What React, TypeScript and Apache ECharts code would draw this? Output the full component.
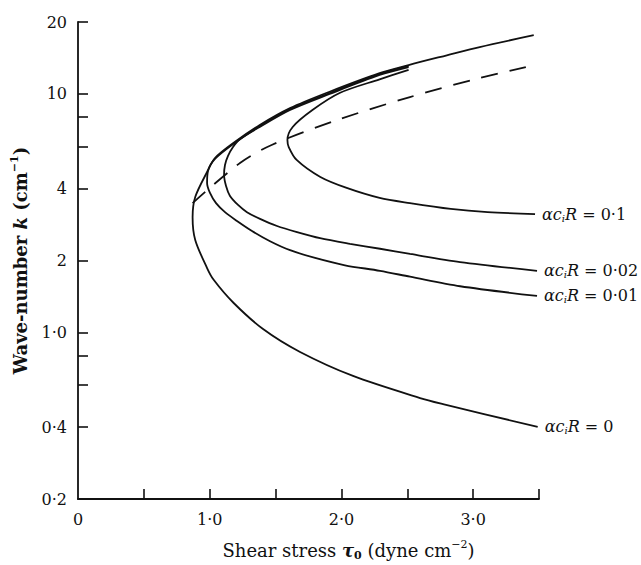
import React, { useEffect, useRef } from "react";
import * as echarts from "echarts";

// Curve αciR = 0 (outermost)
const tau0 = [3.46, 3.05, 2.80, 2.51, 2.29, 1.91, 1.61, 1.38, 1.19, 1.04, 0.98, 0.89, 0.87, 0.89, 0.98, 1.03, 1.18, 1.405, 1.686, 2.088, 2.597, 2.771, 3.49];
const k0 = [17.6, 15.7, 14.5, 13.2, 12.2, 10.2, 8.71, 7.40, 6.28, 5.38, 4.70, 3.69, 3.04, 2.44, 1.86, 1.66, 1.33, 1.032, 0.827, 0.656, 0.530, 0.500, 0.401];

// Curve αciR = 0·01
const tau001 = [2.51, 2.29, 1.91, 1.61, 1.38, 1.19, 1.04, 0.987, 0.98, 1.002, 1.048, 1.116, 1.207, 1.321, 1.458, 1.61, 1.80, 2.027, 2.293, 2.521, 2.901, 3.485];
const k001 = [13.08, 12.1, 10.08, 8.63, 7.33, 6.22, 5.33, 4.75, 4.23, 3.84, 3.48, 3.19, 2.93, 2.66, 2.41, 2.21, 2.05, 1.91, 1.81, 1.71, 1.56, 1.42];

// Curve αciR = 0·02
const tau002 = [2.51, 2.29, 1.91, 1.61, 1.38, 1.23, 1.177, 1.139, 1.116, 1.109, 1.124, 1.154, 1.215, 1.283, 1.382, 1.511, 1.663, 1.838, 2.065, 2.293, 2.521, 2.901, 3.485];
const k002 = [12.95, 11.99, 9.98, 8.55, 7.26, 6.46, 5.98, 5.49, 5.03, 4.57, 4.11, 3.73, 3.42, 3.19, 2.99, 2.79, 2.63, 2.48, 2.35, 2.24, 2.13, 1.97, 1.81];

// Curve αciR = 0·1
const tau01 = [2.51, 2.29, 1.99, 1.78, 1.63, 1.59, 1.60, 1.66, 1.84, 2.04, 2.29, 2.52, 2.83, 3.11, 3.47];
const k01 = [12.6, 11.5, 10.1, 8.55, 7.26, 6.40, 5.98, 5.28, 4.48, 4.03, 3.66, 3.48, 3.29, 3.19, 3.13];

// Dashed line
const tauDash = [0.87, 1.23, 1.47, 1.97, 2.52, 3.05, 3.40];
const kDash = [3.48, 5.13, 6.10, 7.77, 9.69, 11.65, 12.95];

const curveLabels = ["= 0", "= 0·01", "= 0·02", "= 0·1"];

const xTickValues = [0.5, 1, 1.5, 2, 2.5, 3, 3.5];
const xLabelValues = [0, 1, 2, 3];
const xLabelTexts = ["0", "1·0", "2·0", "3·0"];

const yTickValues = [0.4, 0.6, 0.8, 1, 2, 4, 6, 8, 10, 20];
const yLabelValues = [0.2, 0.4, 1, 2, 4, 10, 20];
const yLabelTexts = ["0·2", "0·4", "1·0", "2", "4", "10", "20"];

const FONT = "'DejaVu Serif', 'Liberation Serif', serif";
const INK = "#111";

const toData = (xs: number[], ks: number[]) => xs.map((x, i) => [x, Math.log10(ks[i])]);

export default function App() {
  const ref = useRef<HTMLDivElement>(null);
  useEffect(() => {
    if (!ref.current) return;
    const chart = echarts.init(ref.current, null, { renderer: "svg" });
    const labelRich = {
      a: { fontFamily: FONT, fontSize: 16, fontStyle: "italic", color: INK, lineHeight: 18 },
      s: { fontFamily: FONT, fontSize: 10, fontStyle: "italic", color: INK, lineHeight: 10, verticalAlign: "bottom" },
      n: { fontFamily: FONT, fontSize: 16, color: INK, lineHeight: 18 },
    };
    const curve = (xs: number[], ks: number[], lbl: string) => ({
      type: "line",
      data: toData(xs, ks),
      showSymbol: false,
      smooth: 0.3,
      lineStyle: { color: INK, width: 1.8 },
      endLabel: {
        show: true,
        distance: 7,
        formatter: `{a|αc}{s|i}{a|R}{n| ${lbl}}`,
        rich: labelRich,
      },
      silent: true,
    });
    chart.setOption({
      animation: false,
      grid: { left: 78, right: 102, top: 22, bottom: 66, outerBoundsMode: "none" },
      xAxis: {
        type: "value",
        min: 0,
        max: 3.5,
        interval: 0.5,
        splitLine: { show: false },
        axisLine: { onZero: false, lineStyle: { color: INK, width: 1.8 } },
        axisTick: { inside: true, length: 10, customValues: xTickValues, lineStyle: { color: INK, width: 1.6 } },
        axisLabel: {
          customValues: xLabelValues,
          margin: 12,
          fontFamily: FONT,
          fontSize: 16,
          color: INK,
          formatter: (v: number) => {
            const i = xLabelValues.findIndex((x) => Math.abs(x - v) < 1e-6);
            return i >= 0 ? xLabelTexts[i] : "";
          },
        },
        name: "{n|Shear stress }{i|τ}{s|0}{n| (dyne cm}{p|−2}{n|)}",
        nameLocation: "middle",
        nameGap: 40,
        nameTextStyle: {
          padding: [0, 0, 0, 80],
          rich: {
            n: { fontFamily: FONT, fontSize: 18, color: INK, lineHeight: 22 },
            i: { fontFamily: FONT, fontSize: 18, fontStyle: "italic", fontWeight: "bold", color: INK, lineHeight: 22 },
            s: { fontFamily: FONT, fontSize: 11, fontWeight: "bold", color: INK, lineHeight: 11, verticalAlign: "bottom" },
            p: { fontFamily: FONT, fontSize: 11, color: INK, lineHeight: 11, verticalAlign: "top" },
          },
        },
      },
      yAxis: {
        type: "value",
        min: Math.log10(0.2),
        max: Math.log10(20),
        splitLine: { show: false },
        axisLine: { onZero: false, lineStyle: { color: INK, width: 1.8 } },
        axisTick: {
          inside: true,
          length: 10,
          customValues: yTickValues.map((v) => Math.log10(v)),
          lineStyle: { color: INK, width: 1.6 },
        },
        axisLabel: {
          customValues: yLabelValues.map((v) => Math.log10(v)),
          margin: 11,
          fontFamily: FONT,
          fontSize: 16,
          color: INK,
          formatter: (v: number) => {
            const k = Math.pow(10, v);
            const i = yLabelValues.findIndex((y) => Math.abs(y - k) / y < 1e-4);
            return i >= 0 ? yLabelTexts[i] : "";
          },
        },
        name: "{n|Wave-number }{i|k}{n| (cm}{p|−1}{n|)}",
        nameLocation: "middle",
        nameGap: 47,
        nameRotate: 90,
        nameTextStyle: {
          rich: {
            n: { fontFamily: FONT, fontSize: 18, fontWeight: "bold", color: INK, lineHeight: 22 },
            i: { fontFamily: FONT, fontSize: 18, fontStyle: "italic", fontWeight: "bold", color: INK, lineHeight: 22 },
            p: { fontFamily: FONT, fontSize: 11, fontWeight: "bold", color: INK, lineHeight: 11, verticalAlign: "top" },
          },
        },
      },
      series: [
        curve(tau0, k0, curveLabels[0]),
        curve(tau001, k001, curveLabels[1]),
        curve(tau002, k002, curveLabels[2]),
        curve(tau01, k01, curveLabels[3]),
        {
          type: "line",
          data: toData(tauDash, kDash),
          showSymbol: false,
          smooth: 0.3,
          silent: true,
          lineStyle: { color: INK, width: 1.8, type: [17, 12] },
        },
      ],
    });
    return () => chart.dispose();
  }, []);
  return (
    <div
      ref={ref}
      style={{ position: "fixed", left: 0, top: 0, width: 641, height: 565, background: "#fff" }}
    />
  );
}
